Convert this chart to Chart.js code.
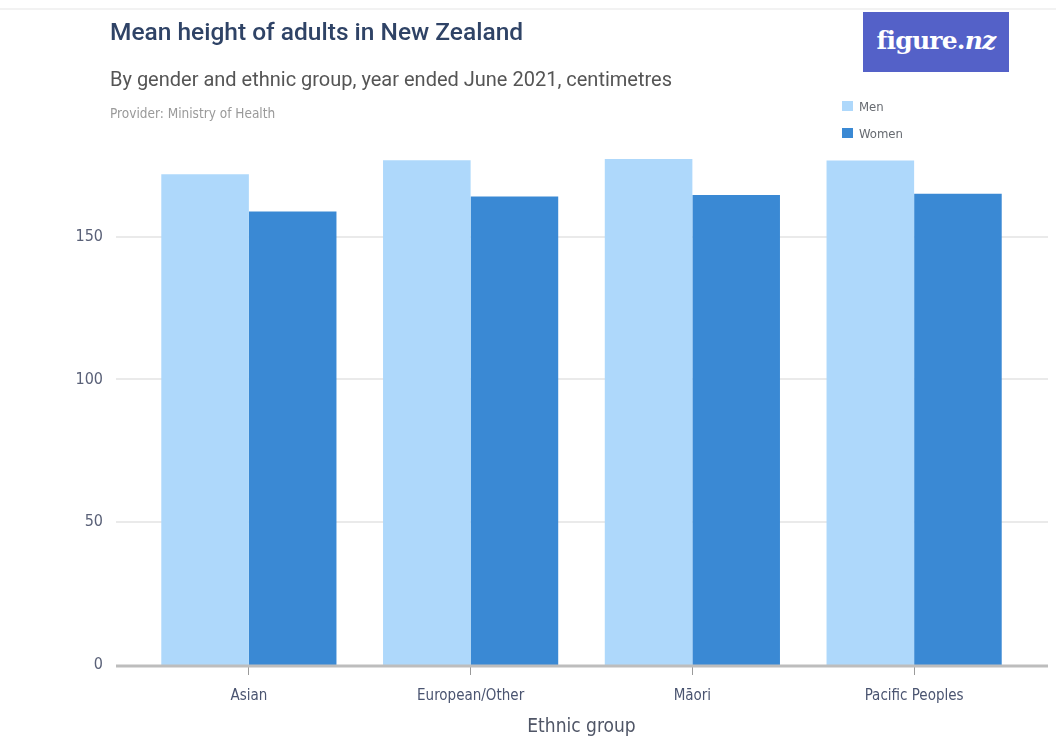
<!DOCTYPE html>
<html>
<head>
<meta charset="utf-8">
<script src="https://cdn.jsdelivr.net/npm/chart.js@4"></script>
<style>
  html, body { margin: 0; padding: 0; background: #ffffff; }
  #wrap { position: relative; width: 1056px; height: 738px; overflow: hidden; }
  #chart { position: absolute; left: 0; top: 0; }
  .topline { position: absolute; left: 0; top: 8px; width: 1056px; height: 2px; background: #f2f2f2; }
  .txt { position: absolute; white-space: nowrap; line-height: 1; }
  #title { left: 110px; top: 17px; font: 500 24.5px Roboto, sans-serif; color: #2f4366; letter-spacing: 0; }
  #subtitle { left: 110px; top: 67px; font: 400 20px Roboto, sans-serif; color: #555555; letter-spacing: 0; }
  #provider { left: 110px; top: 105px; font: 400 13.5px 'Liberation Sans Narrow', 'DejaVu Sans Condensed', sans-serif; color: #9a9a9a; letter-spacing: 0; }
  #logo { position: absolute; left: 863px; top: 12px; width: 146px; height: 60px; background: #5461c8;
          color: #ffffff; font: 700 25px 'DejaVu Serif', 'Liberation Serif', serif; letter-spacing: -0.8px;
          display: flex; align-items: center; justify-content: center; padding-bottom: 4px; box-sizing: border-box; }
  .leg { position: absolute; left: 842px; font: 400 13px 'Liberation Sans Narrow', 'DejaVu Sans Condensed', sans-serif; color: #666a70; line-height: 1; }
  .leg span.sw { position: absolute; left: 0; top: 0; width: 11px; height: 10px; }
  .leg span.lb { position: absolute; left: 17px; top: -1px; white-space: nowrap; }
</style>
</head>
<body>
<div id="wrap">
  <div class="topline"></div>
  <canvas id="chart" width="1056" height="738"></canvas>
  <div class="txt" id="title">Mean height of adults in New Zealand</div>
  <div class="txt" id="subtitle">By gender and ethnic group, year ended June 2021, centimetres</div>
  <div class="txt" id="provider">Provider: Ministry of Health</div>
  <div id="logo">figure.<i>nz</i></div>
  <div class="leg" id="legMen" style="top:101px"><span class="sw" style="background:#aed8fb"></span><span class="lb">Men</span></div>
  <div class="leg" id="legWomen" style="top:128px"><span class="sw" style="background:#3a89d4"></span><span class="lb">Women</span></div>
</div>
<script>
// Ethnic groups along the x axis
const categories = ['Asian', 'European/Other', 'Māori', 'Pacific Peoples'];
// Mean height in centimetres
const menHeights = [171.9, 176.8, 177.2, 176.7];
const womenHeights = [158.8, 164.1, 164.6, 165.0];
// Value-axis labels
const yTickValues = [0, 50, 100, 150];
const xAxisTitle = 'Ethnic group';

const axisFont = "'Liberation Sans Narrow', 'DejaVu Sans Condensed', sans-serif";

// Gridlines and the baseline run a little past the bar area on both sides
const extendedGrid = {
  id: 'extendedGrid',
  beforeDatasetsDraw(chart) {
    const { ctx, chartArea, scales } = chart;
    const y = scales.y;
    const x0 = chartArea.left - 22;
    const x1 = chartArea.right + 23;
    ctx.save();
    yTickValues.forEach(v => {
      const py = Math.round(y.getPixelForValue(v));
      if (v === 0) return;
      ctx.strokeStyle = '#e3e3e3';
      ctx.lineWidth = 1.5;
      ctx.beginPath();
      ctx.moveTo(x0, py);
      ctx.lineTo(x1, py);
      ctx.stroke();
    });
    ctx.restore();
  },
  afterDatasetsDraw(chart) {
    const { ctx, chartArea, scales } = chart;
    const py = scales.y.getPixelForValue(0);
    ctx.save();
    ctx.strokeStyle = '#bdbdbd';
    ctx.lineWidth = 3;
    ctx.beginPath();
    ctx.moveTo(chartArea.left - 22, py + 1);
    ctx.lineTo(chartArea.right + 23, py + 1);
    ctx.stroke();
    ctx.restore();
  }
};

new Chart(document.getElementById('chart'), {
  type: 'bar',
  data: {
    labels: categories,
    datasets: [
      { label: 'Men', data: menHeights, backgroundColor: '#aed8fb', borderWidth: 0 },
      { label: 'Women', data: womenHeights, backgroundColor: '#3a89d4', borderWidth: 0 }
    ]
  },
  options: {
    responsive: false,
    animation: false,
    layout: { padding: { top: 151, right: 31, left: 0, bottom: 0 } },
    plugins: {
      legend: { display: false },
      tooltip: { enabled: false }
    },
    datasets: {
      bar: { categoryPercentage: 0.79, barPercentage: 1.0 }
    },
    scales: {
      x: {
        grid: { display: true, drawOnChartArea: false, drawTicks: true, offset: false, tickLength: 10, color: '#9a9a9a', lineWidth: 1 },
        border: { display: false },
        ticks: { color: '#4a5470', font: { family: axisFont, size: 15 }, padding: 12, maxRotation: 0 },
        title: { display: true, text: xAxisTitle, color: '#4f5566', font: { family: axisFont, size: 19 }, padding: { top: 0, bottom: 0 } },
        afterFit(scale) { scale.height = 73; }
      },
      y: {
        min: 0,
        max: 180,
        grid: { display: false, drawTicks: false },
        border: { display: false },
        ticks: { stepSize: 50, color: '#5a6178', font: { family: axisFont, size: 16 }, padding: 35 },
        afterBuildTicks(scale) { scale.ticks = scale.ticks.filter(t => yTickValues.includes(t.value)); },
        afterFit(scale) { scale.width = 138; }
      }
    }
  },
  plugins: [extendedGrid]
});
</script>
</body>
</html>
